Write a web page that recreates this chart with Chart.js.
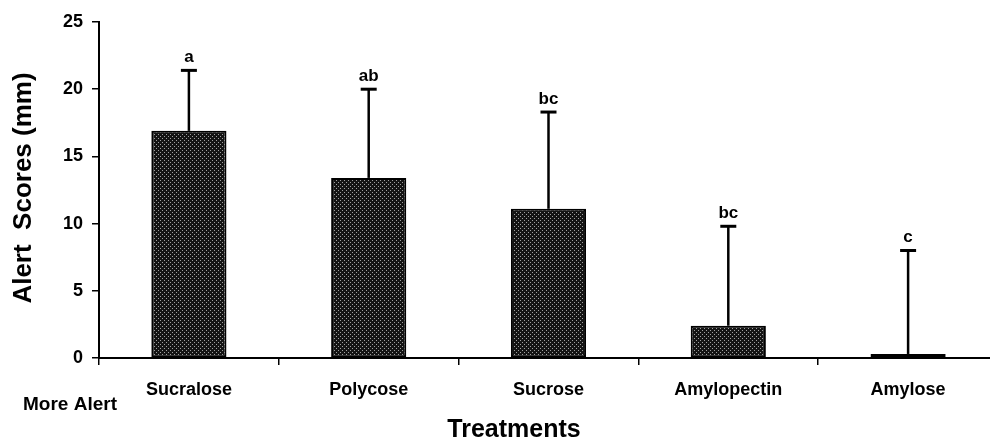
<!DOCTYPE html>
<html>
<head>
<meta charset="utf-8">
<script src="https://cdn.jsdelivr.net/npm/chart.js@4.4.1/dist/chart.umd.min.js"></script>
<style>
  html, body { margin: 0; padding: 0; background: #fff; overflow: hidden; }
  #wrap { width: 998px; height: 442px; }
</style>
</head>
<body>
<div id="wrap"><canvas id="c" width="998" height="442"></canvas></div>
<script>
// Treatment means and upper error extents (mm)
const treatments = ['Sucralose', 'Polycose', 'Sucrose', 'Amylopectin', 'Amylose'];
const meanScores = [16.9, 13.4, 11.1, 2.4, 0.3];
const errorSD = [4.5, 6.6, 7.2, 7.4, 7.7];
const groupLetters = ['a', 'ab', 'bc', 'bc', 'c'];
const yTicks = [0, 5, 10, 15, 20, 25];

const FONT = '"Liberation Sans", Arial, Helvetica, sans-serif';

// Stippled dark fill for the bars
function stipple() {
  const p = document.createElement('canvas');
  p.width = 4; p.height = 4;
  const g = p.getContext('2d');
  g.fillStyle = '#141414';
  g.fillRect(0, 0, 4, 4);
  g.fillStyle = '#a0a0a0';
  g.fillRect(0, 0, 1, 1);
  g.fillRect(2, 2, 1, 1);
  return g.createPattern(p, 'repeat');
}

// Upward error bars with significance letters above each cap
const errorBars = {
  id: 'errorBars',
  afterDatasetsDraw(chart) {
    const ctx = chart.ctx;
    const y = chart.scales.y;
    const meta = chart.getDatasetMeta(0);
    ctx.save();
    ctx.strokeStyle = '#000';
    meta.data.forEach((bar, i) => {
      const x = bar.x;
      const yMean = y.getPixelForValue(meanScores[i]);
      const yTop = y.getPixelForValue(meanScores[i] + errorSD[i]);
      ctx.lineWidth = 2.5;
      ctx.beginPath();
      ctx.moveTo(x, yMean);
      ctx.lineTo(x, yTop);
      ctx.stroke();
      ctx.lineWidth = 3;
      ctx.beginPath();
      ctx.moveTo(x - 8, yTop);
      ctx.lineTo(x + 8, yTop);
      ctx.stroke();
      ctx.fillStyle = '#000';
      ctx.font = 'bold 17px ' + FONT;
      ctx.textAlign = 'center';
      ctx.textBaseline = 'alphabetic';
      ctx.fillText(groupLetters[i], x, yTop - 8);
    });
    ctx.restore();
  }
};

// Axis titles and the side note
const titles = {
  id: 'titles',
  afterDraw(chart) {
    const ctx = chart.ctx;
    ctx.save();
    ctx.fillStyle = '#000';
    ctx.font = 'bold 26px ' + FONT;
    ctx.textAlign = 'center';
    ctx.textBaseline = 'middle';
    ctx.translate(24, 188);
    ctx.rotate(-Math.PI / 2);
    ctx.fillText('Alert  Scores (mm)', 0, 0);
    ctx.restore();

    ctx.save();
    ctx.fillStyle = '#000';
    ctx.font = 'bold 25px ' + FONT;
    ctx.textAlign = 'center';
    ctx.textBaseline = 'alphabetic';
    ctx.fillText('Treatments', 514, 437);
    ctx.font = 'bold 19px ' + FONT;
    ctx.textAlign = 'left';
    ctx.fillText('More Alert', 23, 410);
    ctx.restore();
  }
};

new Chart(document.getElementById('c'), {
  type: 'bar',
  data: {
    labels: treatments,
    datasets: [{
      data: meanScores,
      backgroundColor: stipple(),
      borderColor: '#000',
      borderWidth: 2,
      borderSkipped: false,
      barPercentage: 1,
      categoryPercentage: 0.418
    }]
  },
  options: {
    responsive: false,
    animation: false,
    events: [],
    layout: { padding: { top: 22, left: 0, right: 0, bottom: 0 } },
    plugins: { legend: { display: false }, tooltip: { enabled: false } },
    scales: {
      x: {
        type: 'category',
        offset: true,
        afterFit(s) { s.height = 84; },
        grid: {
          display: true, drawOnChartArea: false, drawTicks: true,
          offset: true, tickLength: 7, color: '#000', lineWidth: 1.5
        },
        border: { display: true, color: '#000', width: 2 },
        ticks: {
          color: '#000', padding: 14,
          font: { family: FONT, size: 18, weight: 'bold' }
        }
      },
      y: {
        min: 0, max: 25,
        afterFit(s) { s.width = 99; },
        afterBuildTicks(s) { s.ticks = yTicks.map(v => ({ value: v })); },
        grid: {
          display: true, drawOnChartArea: false, drawTicks: true,
          tickLength: 7, color: '#000', lineWidth: 1.5
        },
        border: { display: true, color: '#000', width: 2 },
        ticks: {
          color: '#000', padding: 9,
          font: { family: FONT, size: 18, weight: 'bold' }
        }
      }
    }
  },
  plugins: [errorBars, titles]
});
</script>
</body>
</html>
